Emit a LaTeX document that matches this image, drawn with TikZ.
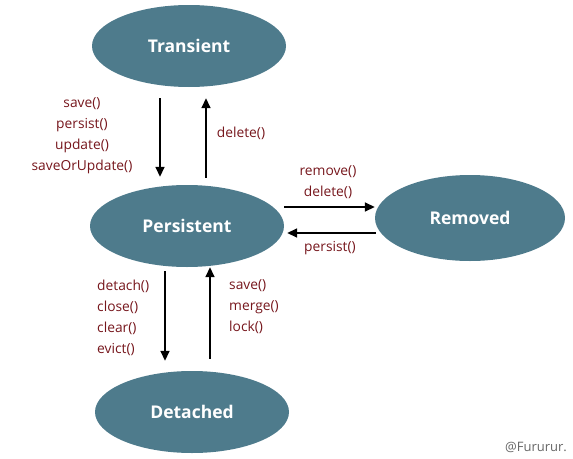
\documentclass[tikz,border=0pt]{standalone}
\usepackage{fontspec}
\setmainfont{Open Sans}
\usetikzlibrary{shapes.geometric,calc,arrows.meta}
\definecolor{stateteal}{RGB}{78,123,140}
\definecolor{lblred}{RGB}{118,22,28}
\begin{document}
\begin{tikzpicture}[x=1pt,y=-1pt,
  state/.style={ellipse,fill=stateteal,draw=none,minimum width=194pt,minimum height=82pt,inner sep=0pt,
    text=white,font=\fontsize{17.5}{20}\selectfont\bfseries},
  arr/.style={-{Triangle[length=10pt,width=9pt]},line width=1.6pt,black},
  lbl/.style={text=lblred,font=\fontsize{13.8}{21}\selectfont,inner sep=0pt}]
\useasboundingbox (0,0) rectangle (573,458);
\node[state] (T) at (189,46) {Transient};
\node[state] (P) at (187,226) {Persistent};
\node[state,minimum width=190pt,minimum height=86pt] (R) at (470,218) {Removed};
\node[state] (D) at (192,412) {Detached};
% Transient <-> Persistent
\draw[arr] ($(T.south)+(-29,11)$) -- ($(P.north)+(-27,-8)$);
\draw[arr] ($(P.north)+(19,-7)$) -- ($(T.south)+(17,11)$);
% Persistent <-> Removed
\draw[arr] ($(P.east)+(0,-19)$) -- ($(R.west)+(0,-11)$);
\draw[arr] ($(R.west)+(1,15)$) -- ($(P.east)+(3,7)$);
% Persistent <-> Detached
\draw[arr] ($(P.south)+(-22,4)$) -- ($(D.north)+(-27,-10)$);
\draw[arr] ($(D.north)+(18,-12)$) -- ($(P.south)+(23,0)$);
% labels
\node[lbl,align=center] (l1) at (82,136) {save()\\persist()\\update()\\saveOrUpdate()};
\node[lbl] (l2) at (241,133) {delete()};
\node[lbl,align=center] (l3) at (328,182) {remove()\\delete()};
\node[lbl] (l4) at (330,248) {persist()};
\node[lbl,align=left,anchor=west] (l5) at (97,318) {detach()\\close()\\clear()\\evict()};
\node[lbl,align=left,anchor=west] (l6) at (229,307) {save()\\merge()\\lock()};
\node[text=black!60,font=\fontsize{13}{15}\selectfont,inner sep=0pt] (w) at (536,447) {@Fururur.};
\end{tikzpicture}
\end{document}
